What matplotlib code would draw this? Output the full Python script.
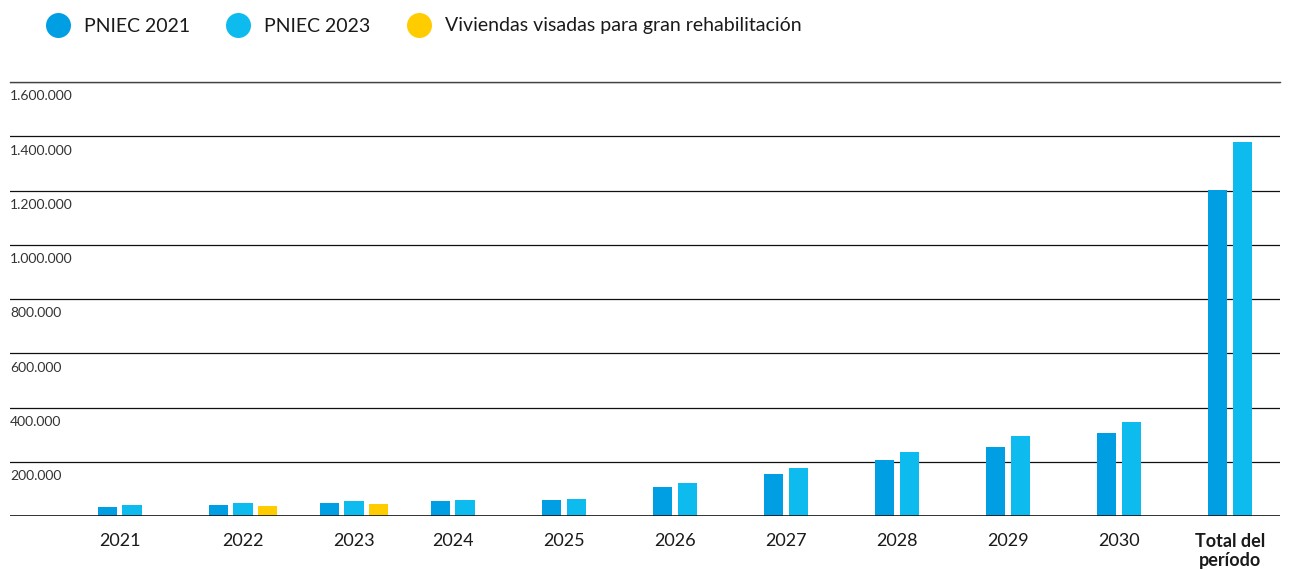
import numpy as np
import matplotlib.pyplot as plt
from matplotlib.lines import Line2D

plt.rcParams['font.family'] = ['Lato', 'DejaVu Sans']

# data (number of dwellings)
categories = ['2021', '2022', '2023', '2024', '2025', '2026', '2027',
              '2028', '2029', '2030', 'Total del\nperíodo']
pniec_2021 = [34000, 39000, 49000, 55000, 59000, 107000, 155000,
              207000, 255000, 306000, 1203000]
pniec_2023 = [39000, 49000, 54000, 59000, 63000, 122000, 177000,
              236000, 295000, 347000, 1380000]
visadas = [None, 38000, 44000, None, None, None, None,
           None, None, None, None]
y_ticks = [200000, 400000, 600000, 800000, 1000000, 1200000, 1400000, 1600000]

c_2021 = '#009FE3'
c_2023 = '#0DBBEF'
c_vis = '#FFCC00'

fig = plt.figure(figsize=(12.98, 5.70), dpi=100)
ax = fig.add_axes([10 / 1298, 54 / 570, 1270 / 1298, 434 / 570])

x = np.arange(len(categories))
w = 0.172
step = 0.218

ax.bar(x - step / 2, pniec_2021, w, color=c_2021, zorder=3)
ax.bar(x + step / 2, pniec_2023, w, color=c_2023, zorder=3)
vis_idx = [i for i, v in enumerate(visadas) if v is not None]
ax.bar(x[vis_idx] + 1.5 * step, [visadas[i] for i in vis_idx], w,
       color=c_vis, zorder=3)

# label sits in the middle of the bars present in each group
label_pos = []
for i in x:
    pos = [i - step / 2, i + step / 2]
    if visadas[i] is not None:
        pos.append(i + 1.5 * step)
    label_pos.append(np.mean(pos))

ax.set_xlim(-0.99, 10.45)
ax.set_ylim(0, 1600000)
ax.set_xticks(label_pos, categories, fontsize=13, color='#1a1a1a',
              linespacing=1.15)
ax.get_xticklabels()[-1].set_fontweight('bold')
ax.tick_params(axis='x', length=0, pad=12)
ax.set_yticks(y_ticks)
ax.tick_params(axis='y', length=0, labelleft=False)
ax.yaxis.grid(True, color='#111111', lw=0.9, zorder=1)

for s in ['left', 'right', 'bottom']:
    ax.spines[s].set_visible(False)
ax.spines['top'].set_color('#444444')
ax.spines['top'].set_linewidth(1.0)
ax.axhline(0, color='#111111', lw=1.2, zorder=4)

for v in y_ticks:
    ax.annotate(f'{v:,}'.replace(',', '.'), xy=(0, v),
                xycoords=('axes fraction', 'data'),
                xytext=(0, -6), textcoords='offset points',
                ha='left', va='top', fontsize=10, color='#333333')

handles = [Line2D([], [], ls='none', marker='o', markersize=18,
                  color=c, markeredgewidth=0)
           for c in (c_2021, c_2023, c_vis)]
fig.legend(handles, ['PNIEC 2021', 'PNIEC 2023',
                     'Viviendas visadas para gran rehabilitación'],
           loc='center left', bbox_to_anchor=(46 / 1298, 1 - 26 / 570),
           ncol=3, frameon=False, fontsize=14, handletextpad=0.73,
           columnspacing=1.9, handlelength=1.2, borderpad=0,
           borderaxespad=0, labelcolor='#1a1a1a')

fig.savefig('out.png', dpi=100)
